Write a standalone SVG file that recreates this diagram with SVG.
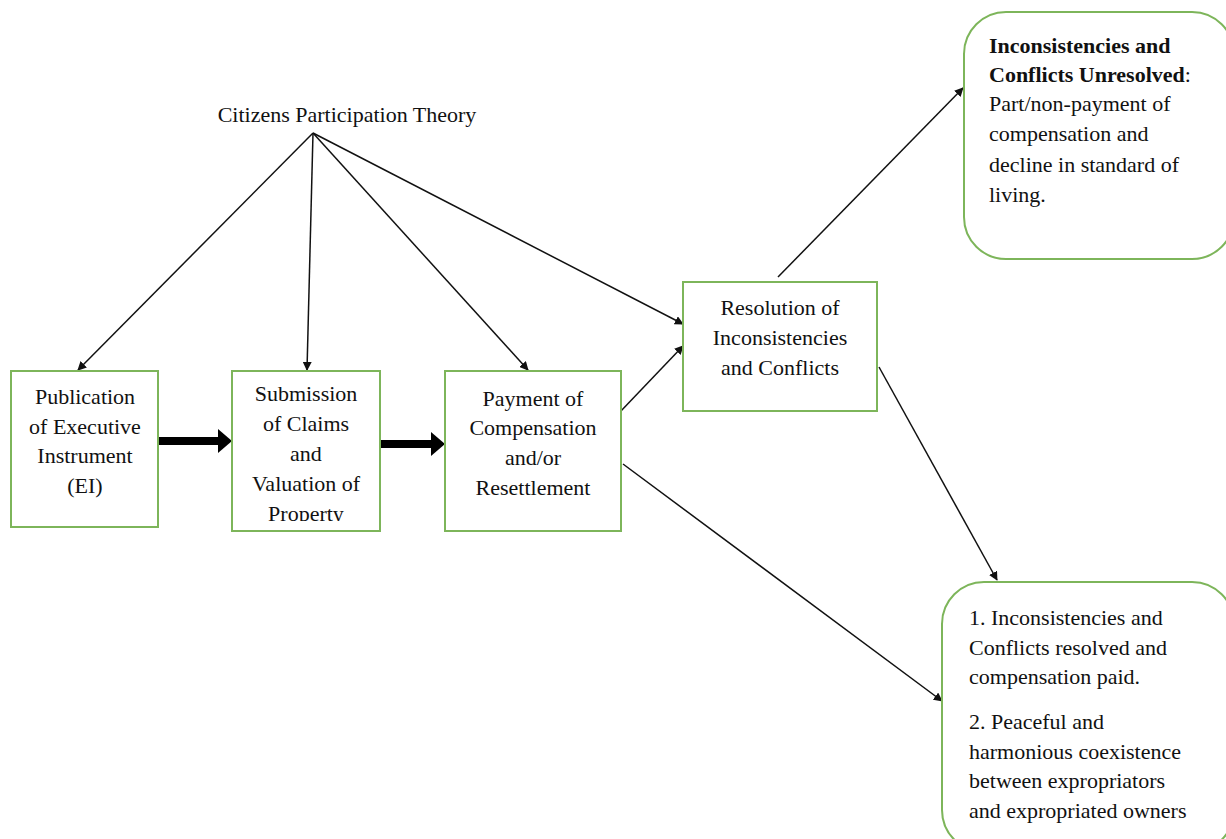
<svg xmlns="http://www.w3.org/2000/svg" width="1226" height="839" viewBox="0 0 1226 839">
<style>
.box{fill:#fff;stroke:#7DB55A;stroke-width:2}
.t{font-size:22px;fill:#111}
.c{text-anchor:middle}
.b{font-weight:bold}
.ln{stroke:#111;stroke-width:1.5;fill:none;marker-end:url(#ah)}
.thick{stroke:#000;stroke-width:8;fill:none}
</style>
<defs>
<marker id="ah" viewBox="0 0 10 10" refX="9" refY="5" markerWidth="9" markerHeight="9" markerUnits="userSpaceOnUse" orient="auto"><path d="M0,0 L10,5 L0,10 z" fill="#111"/></marker>
<clipPath id="clip2"><rect x="232" y="371" width="148" height="150"/></clipPath>
</defs>
<rect width="1226" height="839" fill="#fff"/>
<g font-family="Liberation Serif, Tinos, Times New Roman, DejaVu Serif, serif">
<g id="theory"><text class="t c" x="347" y="122">Citizens Participation Theory</text></g>
<g id="connectors">
<line class="ln" x1="313" y1="133" x2="78" y2="370"/>
<line class="ln" x1="313" y1="133" x2="307" y2="370"/>
<line class="ln" x1="313" y1="133" x2="528" y2="370"/>
<line class="ln" x1="313" y1="133" x2="683" y2="324"/>
<line class="ln" x1="620" y1="412" x2="683" y2="346"/>
<line class="ln" x1="778" y1="277" x2="963" y2="88"/>
<line class="ln" x1="879" y1="367" x2="997" y2="580"/>
<line class="ln" x1="623" y1="464" x2="942" y2="701"/>
<path class="thick" d="M159,441 H220"/><path d="M218,429 L232,441 L218,453 z" fill="#000"/>
<path class="thick" d="M378,444 H433"/><path d="M431,432 L445,444 L431,456 z" fill="#000"/>
</g>
<g id="n1"><rect class="box" x="11" y="371" width="147" height="156"/>
<text class="t c" x="85" y="404">Publication</text><text class="t c" x="85" y="434">of Executive</text><text class="t c" x="85" y="463">Instrument</text><text class="t c" x="85" y="493">(EI)</text></g>
<g id="n2"><rect class="box" x="232" y="371" width="148" height="160"/>
<g clip-path="url(#clip2)"><text class="t c" x="306" y="401">Submission</text><text class="t c" x="306" y="431">of Claims</text><text class="t c" x="306" y="461">and</text><text class="t c" x="306" y="491">Valuation of</text><text class="t c" x="306" y="521">Property</text></g></g>
<g id="n3"><rect class="box" x="445" y="371" width="176" height="160"/>
<text class="t c" x="533" y="406">Payment of</text><text class="t c" x="533" y="435">Compensation</text><text class="t c" x="533" y="465">and/or</text><text class="t c" x="533" y="495">Resettlement</text></g>
<g id="n4"><rect class="box" x="683" y="282" width="194" height="129"/>
<text class="t c" x="780" y="315">Resolution of</text><text class="t c" x="780" y="345">Inconsistencies</text><text class="t c" x="780" y="375">and Conflicts</text></g>
<g id="n5"><rect class="box" x="964" y="12" width="270" height="247" rx="42"/>
<text class="t b" x="989" y="53">Inconsistencies and</text>
<text class="t" x="989" y="82"><tspan class="b">Conflicts Unresolved</tspan>:</text>
<text class="t" x="989" y="111">Part/non-payment of</text><text class="t" x="989" y="141">compensation and</text><text class="t" x="989" y="172">decline in standard of</text><text class="t" x="989" y="202">living.</text></g>
<g id="n6"><rect class="box" x="942" y="582" width="292" height="270" rx="42"/>
<text class="t" x="969" y="625">1. Inconsistencies and</text><text class="t" x="969" y="655">Conflicts resolved and</text><text class="t" x="969" y="684">compensation paid.</text>
<text class="t" x="969" y="729">2. Peaceful and</text><text class="t" x="969" y="759">harmonious coexistence</text><text class="t" x="969" y="788">between expropriators</text><text class="t" x="969" y="818">and expropriated owners</text></g>
</g>
</svg>
